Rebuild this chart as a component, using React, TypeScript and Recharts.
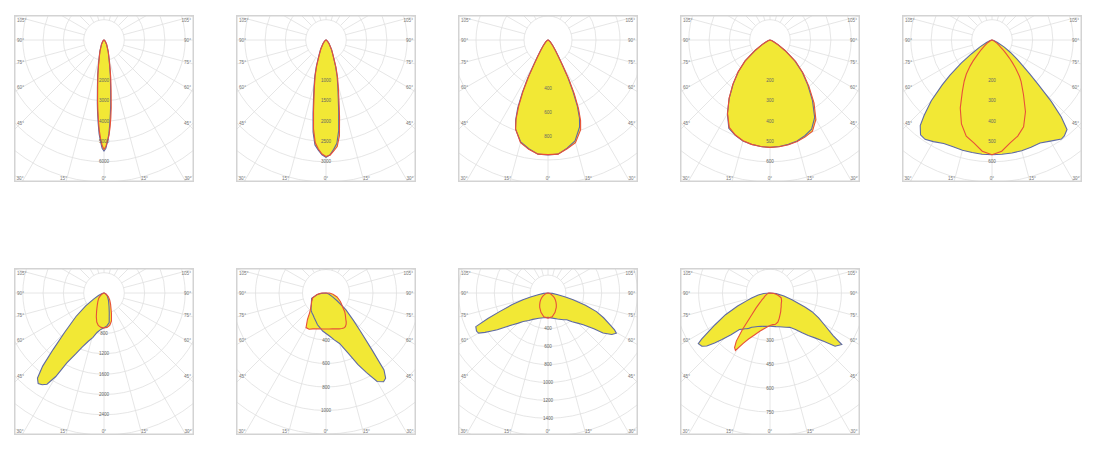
import React from 'react';
import { RadarChart, Radar, PolarGrid, PolarAngleAxis, PolarRadiusAxis } from 'recharts';

const YELLOW = '#f2e835';
const BLUE = '#5f6aa3';
const RED = '#e8503a';
const GRID = '#e0e0e0';
const FRAME = '#d3d3d3';
const TEXT = '#777';
const FONT = '"Liberation Sans", Arial, sans-serif';

const W = 180;
const H = 167;
const CX = 90;
const CY = 25;

// radial grid every 15 degrees (gamma, 0 = nadir)
const ANGLE_TICKS = [-180, -165, -150, -135, -120, -105, -90, -75, -60, -45, -30, -15, 0, 15, 30, 45, 60, 75, 90, 105, 120, 135, 150, 165];
const SIDE_LABELS = [105, 90, 75, 60, 45];
const BOTTOM_LABELS = [-30, -15, 0, 15, 30];

// panel 1
const p1Gamma = [-90, -75, -60, -45, -30, -20, -15, -12, -10, -8, -6, -5, -4, -3, -2, -1, 0, 1, 2, 3, 4, 5, 6, 8, 10, 12, 15, 20, 30, 45, 60, 75, 90];
const p1C0 = [0, 0, 30, 90, 260, 600, 950, 1370, 1800, 2330, 3150, 3620, 4110, 4620, 5000, 5330, 5470, 5330, 5000, 4620, 4110, 3620, 3150, 2330, 1800, 1370, 950, 600, 260, 90, 30, 0, 0];
const p1C90 = [0, 0, 25, 80, 240, 570, 910, 1310, 1720, 2230, 3020, 3470, 3950, 4450, 4850, 5200, 5380, 5250, 4980, 4700, 4300, 3850, 3380, 2500, 1920, 1440, 990, 620, 270, 90, 30, 0, 0];
const p1Labels = [2000, 3000, 4000, 5000, 6000];

// panel 2
const p2Gamma = [-90, -75, -60, -50, -40, -30, -25, -20, -17, -14, -12, -10, -8, -6, -4, -2, 0, 2, 4, 6, 8, 10, 12, 14, 17, 20, 25, 30, 40, 50, 60, 75, 90];
const p2C0 = [0, 0, 20, 50, 120, 270, 400, 700, 950, 1230, 1480, 1840, 2290, 2600, 2720, 2830, 2890, 2830, 2700, 2560, 2250, 1800, 1450, 1210, 940, 690, 400, 270, 120, 50, 20, 0, 0];
const p2C90 = [0, 0, 18, 45, 110, 250, 380, 670, 910, 1180, 1420, 1770, 2210, 2540, 2690, 2810, 2870, 2840, 2740, 2640, 2380, 1920, 1540, 1270, 980, 720, 410, 280, 120, 50, 20, 0, 0];
const p2Labels = [1000, 1500, 2000, 2500, 3000];

// panel 3
const p3Gamma = [-90, -70, -60, -50, -40, -35, -32, -30, -28, -26, -24, -22, -20, -15, -10, -5, 0, 5, 10, 15, 20, 22, 24, 26, 28, 30, 32, 35, 40, 50, 60, 70, 90];
const p3C0 = [0, 0, 10, 25, 65, 110, 170, 240, 360, 490, 620, 720, 790, 880, 920, 955, 958, 955, 915, 870, 770, 700, 600, 470, 350, 235, 165, 110, 65, 25, 10, 0, 0];
const p3C90 = [0, 0, 10, 25, 60, 105, 160, 225, 340, 470, 600, 710, 790, 885, 925, 955, 955, 955, 920, 885, 795, 725, 625, 500, 370, 245, 170, 110, 65, 25, 10, 0, 0];
const p3Labels = [400, 600, 800];

// panel 4
const p4Gamma = [-90, -80, -70, -65, -60, -55, -50, -45, -40, -35, -30, -25, -20, -15, -10, -5, 0, 5, 10, 15, 20, 25, 30, 35, 40, 45, 50, 55, 60, 65, 70, 80, 90];
const p4C0 = [0, 0, 8, 20, 45, 88, 160, 220, 282, 350, 420, 480, 500, 515, 522, 527, 529, 527, 522, 515, 502, 485, 440, 365, 290, 225, 160, 90, 45, 20, 8, 0, 0];
const p4C90 = [0, 0, 8, 20, 45, 90, 160, 222, 285, 352, 418, 475, 498, 514, 522, 527, 529, 528, 524, 518, 508, 495, 452, 378, 298, 230, 165, 92, 46, 20, 8, 0, 0];
const p4Labels = [200, 300, 400, 500, 600];

// panel 5
const p5Gamma = [-90, -80, -70, -65, -60, -56, -53, -50, -48, -45, -42, -40, -37, -34, -30, -25, -20, -15, -10, -5, 0, 5, 10, 15, 20, 25, 30, 35, 37, 40, 42, 44, 46, 48, 50, 53, 56, 60, 65, 70, 80, 90];
const p5C0 = [0, 0, 12, 30, 70, 123, 190, 270, 330, 423, 500, 550, 585, 590, 578, 563, 560, 562, 563, 565, 565, 565, 565, 565, 562, 560, 575, 596, 592, 575, 510, 420, 320, 250, 200, 150, 110, 70, 30, 12, 0, 0];
const p5C90 = [0, 0, 5, 9, 15, 28, 40, 55, 72, 97, 140, 168, 210, 245, 292, 370, 440, 490, 515, 550, 565, 550, 515, 490, 455, 390, 310, 250, 225, 180, 150, 122, 98, 78, 58, 42, 30, 16, 9, 5, 0, 0];
const p5Labels = [200, 300, 400, 500, 600];

// panel 6
const p6Gamma = [-90, -80, -70, -65, -60, -55, -50, -45, -42, -40, -38, -36, -34, -32, -30, -28, -25, -22, -18, -14, -10, -5, 0, 5, 10, 15, 20, 30, 40, 50, 60, 70, 80, 90];
const p6C0 = [0, 10, 50, 120, 230, 440, 720, 1100, 1500, 1880, 2130, 2207, 2180, 2120, 1900, 1560, 1330, 1150, 1000, 900, 790, 720, 684, 650, 590, 400, 290, 180, 115, 80, 40, 15, 5, 0];
const p6C90 = [0, 3, 15, 30, 50, 80, 110, 150, 165, 175, 190, 205, 220, 240, 260, 285, 330, 390, 490, 590, 650, 680, 690, 680, 650, 570, 430, 260, 175, 110, 50, 15, 3, 0];
const p6Labels = [800, 1200, 1600, 2000, 2400];

// panel 7
const p7Gamma = [-90, -85, -80, -70, -60, -50, -45, -40, -35, -30, -25, -20, -15, -10, -5, 0, 5, 10, 15, 20, 24, 27, 30, 33, 35, 37, 39, 42, 45, 50, 55, 60, 70, 80, 90];
const p7C0 = [0, 40, 75, 130, 143, 163, 180, 196, 207, 218, 235, 254, 280, 300, 325, 345, 370, 405, 445, 540, 665, 760, 870, 900, 885, 820, 620, 440, 330, 220, 115, 65, 25, 8, 0];
const p7C90 = [30, 55, 80, 120, 140, 165, 185, 215, 275, 340, 340, 325, 315, 310, 307, 306, 307, 310, 315, 325, 330, 334, 330, 315, 300, 280, 265, 245, 225, 185, 160, 140, 100, 60, 30];
const p7Labels = [400, 600, 800, 1000];

// panel 8
const p8Gamma = [-90, -85, -80, -77, -75, -72, -69, -67, -65, -62, -60, -58, -56, -54, -51, -48, -45, -41, -35, -30, -20, -10, 0, 10, 20, 30, 35, 40, 45, 48, 52, 54, 57, 59.5, 61, 63, 66, 69, 72, 75, 77, 80, 85, 90];
const p8C0 = [0, 50, 112, 200, 290, 420, 580, 730, 890, 905, 895, 830, 760, 700, 598, 530, 480, 423, 375, 340, 300, 280, 272, 285, 310, 345, 365, 420, 480, 530, 650, 760, 850, 886, 850, 776, 680, 580, 440, 290, 200, 112, 50, 0];
const p8C90 = [0, 5, 10, 16, 20, 26, 33, 40, 45, 52, 60, 68, 76, 84, 96, 108, 120, 136, 162, 185, 230, 270, 280, 270, 230, 185, 162, 140, 120, 108, 92, 84, 72, 62, 56, 49, 42, 33, 26, 20, 16, 10, 5, 0];
const p8Labels = [400, 600, 800, 1000, 1200, 1400];

// panel 9
const p9Gamma = [-90, -85, -80, -75, -72, -68, -64, -60, -58, -56, -54.8, -52, -50, -48, -46, -43, -40, -37, -35, -33, -31, -28, -25, -20, -15, -10, -5, 0, 5, 10, 15, 20, 25, 30, 35, 39, 42, 45, 48, 50.7, 54.3, 56, 59, 63, 66, 68, 73, 78, 84, 90];
const p9C0 = [0, 40, 75, 120, 150, 220, 312, 400, 455, 520, 553, 545, 520, 470, 425, 360, 300, 285, 275, 268, 260, 245, 236, 225, 218, 213, 211, 210, 211, 215, 220, 228, 238, 250, 280, 322, 360, 400, 455, 530, 557, 480, 410, 344, 290, 240, 145, 90, 40, 0];
const p9C90 = [0, 8, 12, 15, 18, 22, 27, 35, 38, 42, 45, 50, 65, 75, 90, 130, 177, 290, 370, 410, 423, 360, 320, 280, 250, 230, 215, 205, 200, 200, 190, 170, 150, 135, 120, 112, 105, 100, 96, 93, 90, 88, 85, 80, 78, 72, 55, 40, 20, 0];
const p9Labels = [300, 450, 600, 750];

const PANELS = [
  { row: 0, col: 0, gamma: p1Gamma, c0: p1C0, c90: p1C90, step: 1000, spacing: 20.3, labels: p1Labels },
  { row: 0, col: 1, gamma: p2Gamma, c0: p2C0, c90: p2C90, step: 500, spacing: 20.3, labels: p2Labels },
  { row: 0, col: 2, gamma: p3Gamma, c0: p3C0, c90: p3C90, step: 200, spacing: 24, labels: p3Labels },
  { row: 0, col: 3, gamma: p4Gamma, c0: p4C0, c90: p4C90, step: 100, spacing: 20.3, labels: p4Labels },
  { row: 0, col: 4, gamma: p5Gamma, c0: p5C0, c90: p5C90, step: 100, spacing: 20.3, labels: p5Labels },
  { row: 1, col: 0, gamma: p6Gamma, c0: p6C0, c90: p6C90, step: 400, spacing: 20.3, labels: p6Labels },
  { row: 1, col: 1, gamma: p7Gamma, c0: p7C0, c90: p7C90, step: 200, spacing: 23.5, labels: p7Labels },
  { row: 1, col: 2, gamma: p8Gamma, c0: p8C0, c90: p8C90, step: 200, spacing: 17.9, labels: p8Labels },
  { row: 1, col: 3, gamma: p9Gamma, c0: p9C0, c90: p9C90, step: 150, spacing: 23.8, labels: p9Labels },
];

const rad = (d: number) => (d * Math.PI) / 180;

function DegreeLabels() {
  const style = { fontFamily: FONT, fontSize: 4.6, fill: TEXT };
  return (
    <svg width={W} height={H} style={{ position: 'absolute', left: 0, top: 0, pointerEvents: 'none' }}>
      {SIDE_LABELS.map(a => {
        const y = Math.max(5.5, CY + 83 / Math.tan(rad(a)));
        return (
          <g key={a}>
            <text x={3} y={y} dominantBaseline="central" style={style}>{a}°</text>
            <text x={W - 3} y={y} dominantBaseline="central" textAnchor="end" style={style}>{a}°</text>
          </g>
        );
      })}
      {BOTTOM_LABELS.map((a, i) => {
        const x = Math.min(W - 6, Math.max(6, CX + 151 * Math.tan(rad(a))));
        return (
          <text key={i} x={x} y={H - 4} dominantBaseline="central" textAnchor="middle" style={style}>
            {Math.abs(a)}°
          </text>
        );
      })}
      <rect x={0.75} y={0.75} width={W - 1.5} height={H - 1.5} fill="none" stroke={FRAME} strokeWidth={1.5} />
    </svg>
  );
}

function Photometry({ row, col, gamma, c0, c90, step, spacing, labels }: any) {
  const data = gamma.map((g: number, i: number) => ({ g, a: c0[i], b: c90[i] }));
  const rings = Math.ceil(175 / spacing);
  const ringTicks = Array.from({ length: rings }, (_, i) => (i + 1) * step);

  const renderTick = ({ x, y, payload }: any) => {
    if (!labels.includes(payload.value)) return <g />;
    return (
      <text x={x} y={y} textAnchor="middle" dominantBaseline="central"
        style={{ fontFamily: FONT, fontSize: 4.6, fill: '#666' }}>
        {payload.value}
      </text>
    );
  };

  return (
    <div style={{
      position: 'absolute',
      left: 13.5 + col * 222,
      top: row === 0 ? 14.5 : 268,
      width: W,
      height: H,
      overflow: 'hidden',
      background: '#fff',
    }}>
      <RadarChart
        width={W}
        height={H}
        data={data}
        cx={CX}
        cy={CY}
        innerRadius={spacing}
        outerRadius={spacing * rings}
        startAngle={-270}
        endAngle={90}
        margin={{ top: 0, right: 0, bottom: 0, left: 0 }}
      >
        <PolarGrid gridType="circle" stroke={GRID} strokeWidth={0.8} />
        <PolarAngleAxis dataKey="g" type="number" domain={[-180, 180]} ticks={ANGLE_TICKS}
          tick={false} axisLine={false} tickLine={false} />
        <Radar dataKey="a" fill={YELLOW} fillOpacity={1} stroke="none" dot={false} activeDot={false} isAnimationActive={false} />
        <Radar dataKey="b" fill={YELLOW} fillOpacity={1} stroke="none" dot={false} activeDot={false} isAnimationActive={false} />
        <Radar dataKey="a" fill="none" fillOpacity={0} stroke={BLUE} strokeWidth={1.1} dot={false} activeDot={false} isAnimationActive={false} />
        <Radar dataKey="b" fill="none" fillOpacity={0} stroke={RED} strokeWidth={1.1} dot={false} activeDot={false} isAnimationActive={false} />
        <PolarRadiusAxis type="number" angle={-90} domain={[step, step * rings]} ticks={ringTicks}
          allowDataOverflow axisLine={false} tickLine={false} tick={renderTick} />
      </RadarChart>
      <DegreeLabels />
    </div>
  );
}

export default function App() {
  return (
    <div style={{ position: 'absolute', left: 0, top: 0, width: 1096, height: 450, background: '#fff' }}>
      {PANELS.map((p, i) => <Photometry key={i} {...p} />)}
    </div>
  );
}
